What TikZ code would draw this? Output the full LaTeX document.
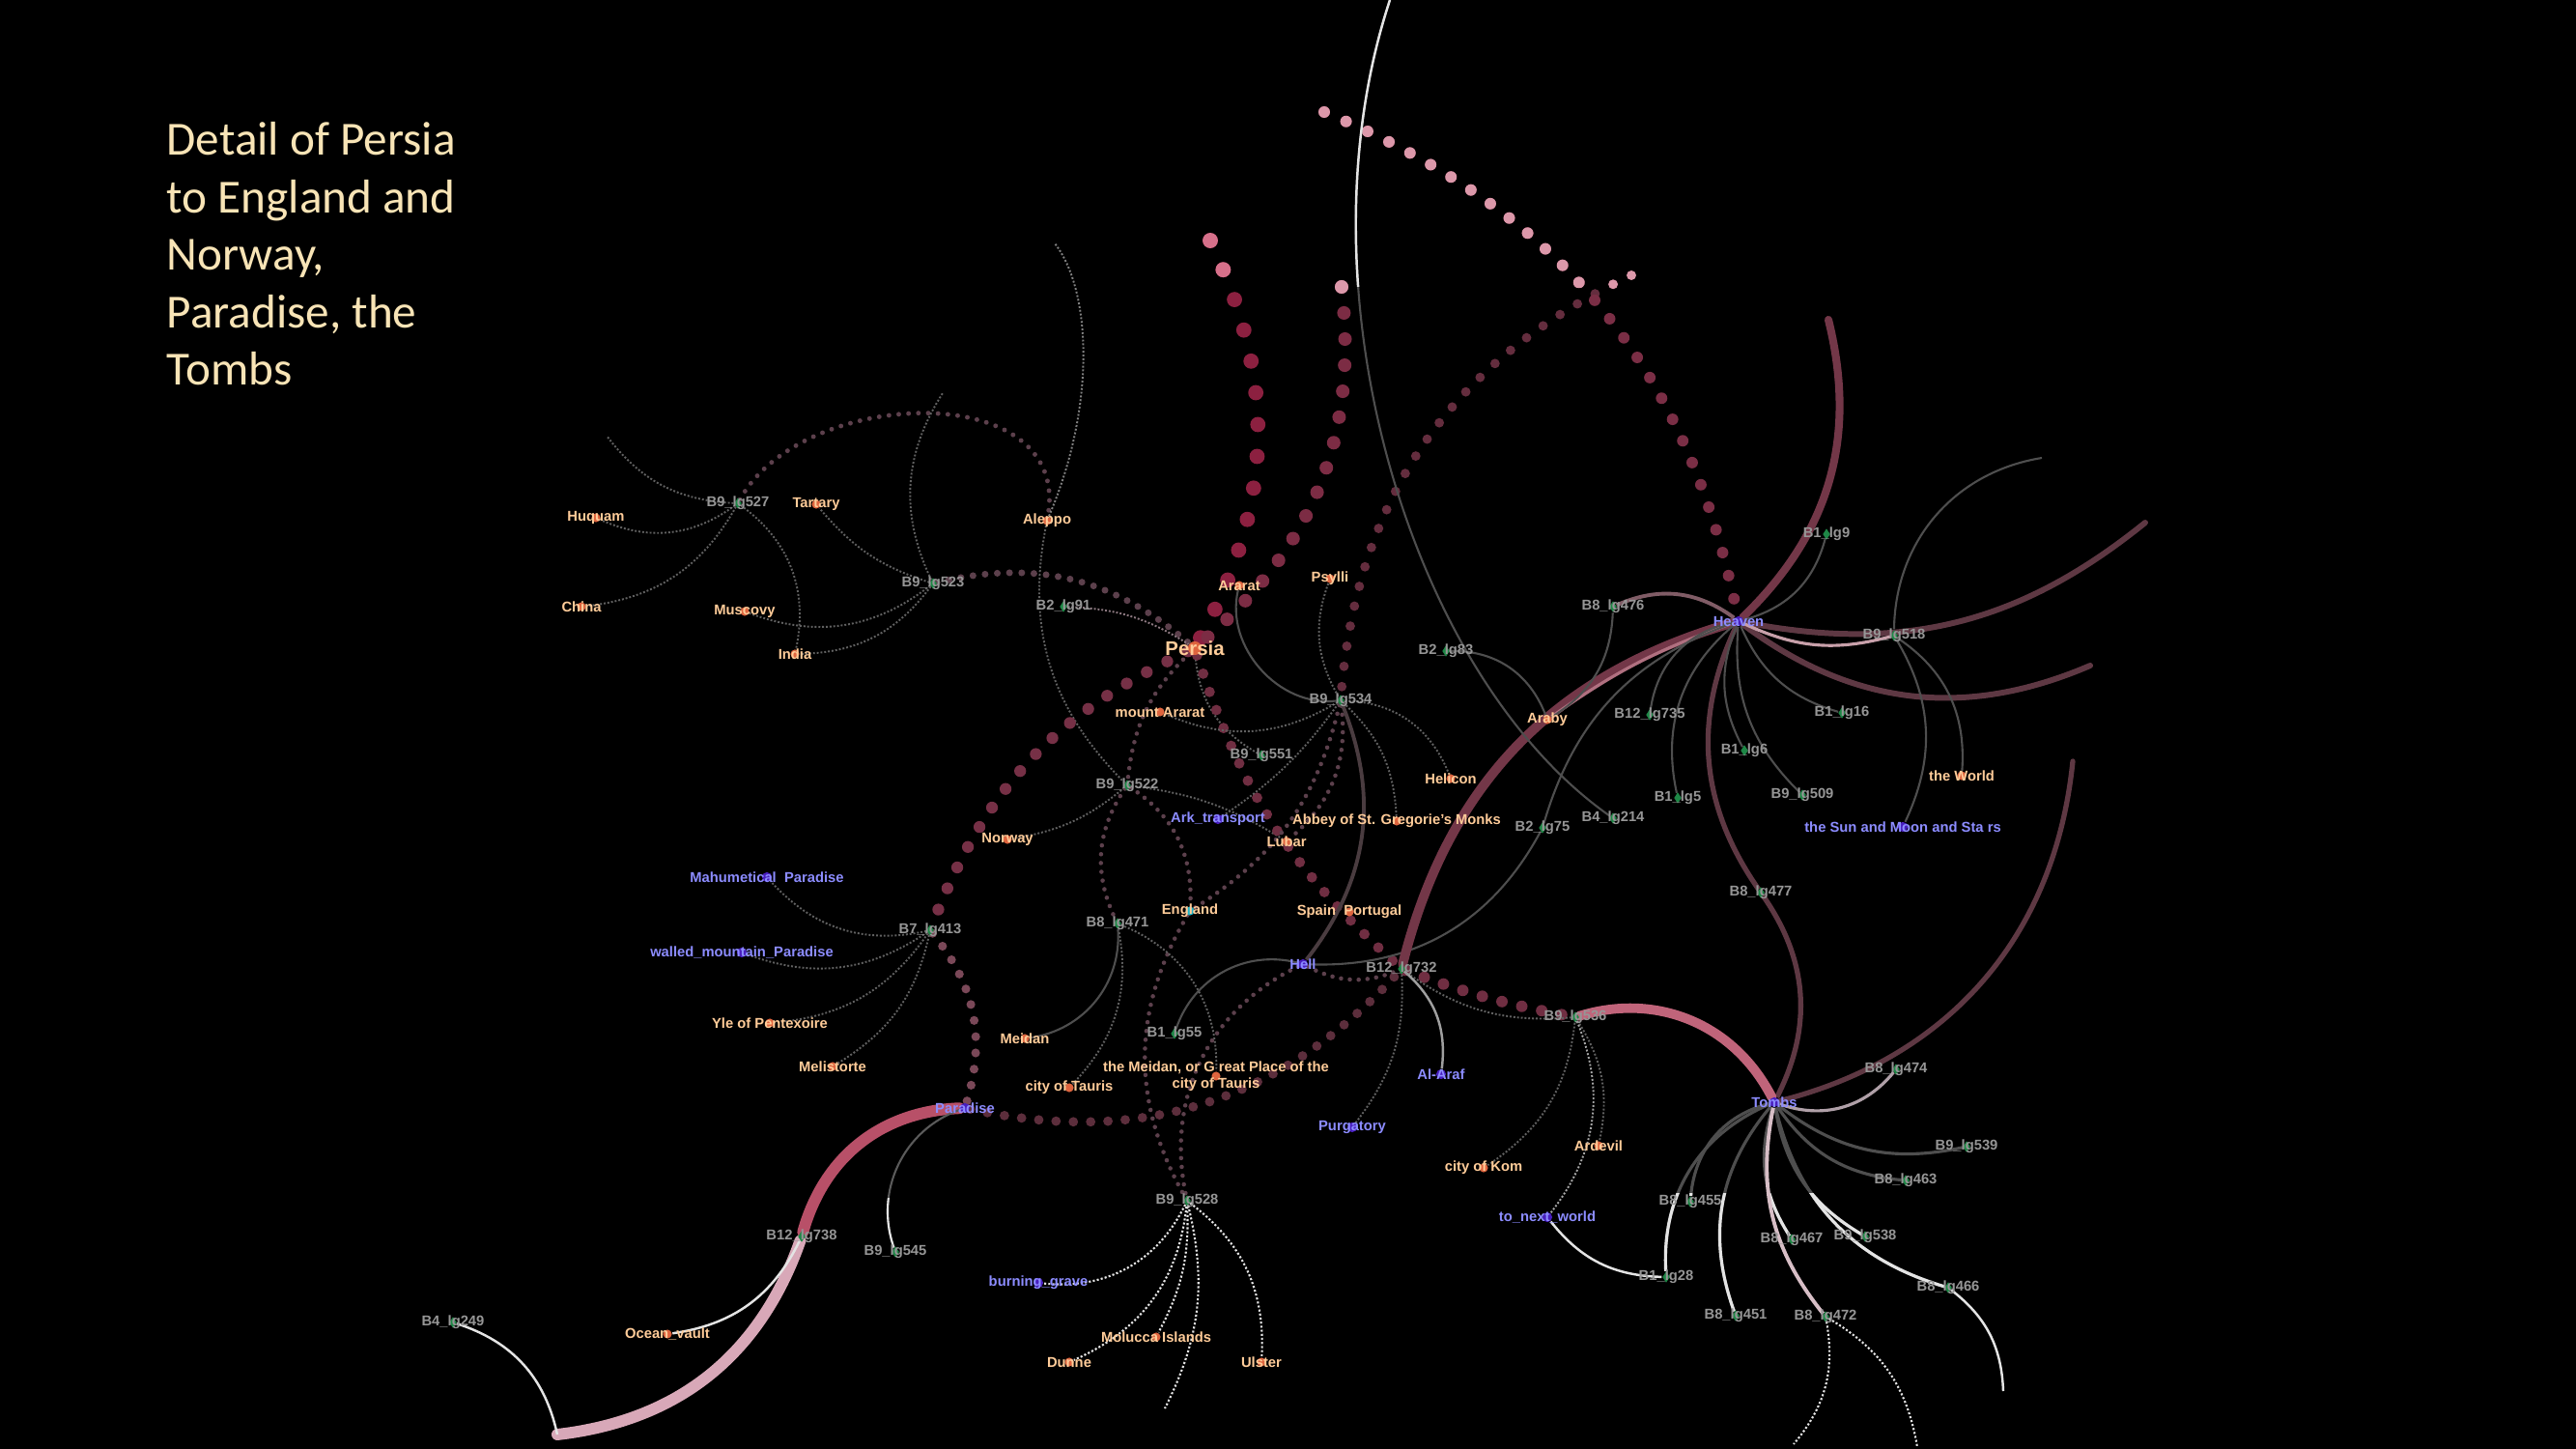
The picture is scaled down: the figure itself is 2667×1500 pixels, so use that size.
\documentclass[tikz,border=0pt]{standalone}
\usepackage{fontspec}
\setmainfont{Liberation Sans}
\newfontfamily\titlefont{Carlito}
\usetikzlibrary{shapes.geometric}

\definecolor{locdot}{RGB}{222,100,62}
\definecolor{loctext}{RGB}{255,204,153}
\definecolor{realmdot}{RGB}{72,30,190}
\definecolor{realmtext}{RGB}{140,140,255}
\definecolor{iddot}{RGB}{30,135,70}
\definecolor{idtext}{RGB}{150,150,150}
\definecolor{englanddot}{RGB}{30,180,200}
\definecolor{titlecol}{RGB}{248,228,182}
\definecolor{linegrey}{RGB}{78,78,78}
\definecolor{dotgrey}{RGB}{96,96,96}
\definecolor{paleline}{RGB}{228,228,228}
\definecolor{beadmauve}{RGB}{92,64,76}
\definecolor{crimsonbead}{RGB}{140,32,64}
\definecolor{rosebead}{RGB}{214,112,138}
\definecolor{pinkbead}{RGB}{220,152,170}
\definecolor{winebead}{RGB}{124,44,68}
\definecolor{chaincol}{RGB}{100,45,62}
\definecolor{skycol}{RGB}{122,46,69}
\definecolor{persiabead}{RGB}{118,48,70}
\definecolor{lowbead}{RGB}{122,72,88}
\definecolor{parabead}{RGB}{92,46,60}
\definecolor{midbead}{RGB}{112,46,66}
\definecolor{hellarc}{RGB}{74,60,64}
\definecolor{arabyline}{RGB}{176,112,128}
\definecolor{paleheaven}{RGB}{200,160,170}
\definecolor{arcsix}{RGB}{128,92,102}
\definecolor{plum}{RGB}{94,56,67}
\definecolor{heavenarc}{RGB}{115,55,72}
\definecolor{paradisearc}{RGB}{184,80,104}
\definecolor{shorearc}{RGB}{216,168,184}
\definecolor{tombarc}{RGB}{192,100,122}
\definecolor{tombpale}{RGB}{176,160,168}
\definecolor{tombrose}{RGB}{215,190,198}
\definecolor{faintline}{RGB}{140,120,128}
\definecolor{midgrey}{RGB}{90,90,90}

\pgfdeclarelayer{bg}
\pgfdeclarelayer{links}
\pgfsetlayers{bg,links,main}

% fan of links under the Tombs
\newcommand{\tombfan}[1]{%
  \path[#1] (tombs) edge[bend right=35] (lg455)
                    edge[bend right=35] (lg28)
                    edge[bend right=30] (lg451)
                    edge[bend right=25] (lg467)
                    edge[bend right=25] (lg538)
                    edge[bend right=30] (lg466);}

\begin{document}
\begin{tikzpicture}[x=0.1mm, y=0.1mm,
    lab/.style={font=\fontsize{4.2}{5}\selectfont\bfseries, inner sep=0pt, align=center},
    loc/.style={circle, fill=locdot, inner sep=0pt, minimum size=2.6pt,
                label={[lab, text=loctext]center:{#1}}},
    realm/.style={circle, fill=realmdot, inner sep=0pt, minimum size=2.9pt,
                  label={[lab, text=realmtext]center:{#1}}},
    lgid/.style={diamond, fill=iddot, inner sep=0pt, minimum width=2.3pt, minimum height=3.4pt,
                 label={[lab, text=idtext]center:{#1}}},
    grline/.style={draw=linegrey, line width=0.6pt},
    fine/.style={draw=dotgrey, line width=0.55pt, dash pattern=on 0.55pt off 0.55pt},
    wfine/.style={draw=paleline, line width=0.6pt, dash pattern=on 0.6pt off 0.6pt},
    beads/.style={draw=beadmauve, line width=1.3pt, line cap=round, dash pattern=on 0pt off 2.6pt},
    pearls/.style={line cap=round, dash pattern=on 0pt off #1}]

  \useasboundingbox (0,0) rectangle (2667,-1500);
  \begin{pgfonlayer}{bg}
    \fill[black] (0,0) rectangle (2667,-1500);
  \end{pgfonlayer}

  \node[font=\titlefont\fontsize{14}{16.9}\selectfont, text=titlecol, align=left,
        anchor=north west, inner sep=0pt] (title) at (172,-126)
        {Detail of Persia\\to England and\\Norway,\\Paradise, the\\Tombs};

  % places
  \foreach \n/\x/\y/\t in {huquam/617/536/Huquam, tartary/845/522/Tartary, china/602/628/China,
      muscovy/771/633/Muscovy, india/823/677/India, aleppo/1084/539/Aleppo,
      ararat/1283/606/Ararat, psylli/1377/599/Psylli, mtararat/1201/737/mount Ararat,
      araby/1602/745/Araby, helicon/1502/806/Helicon, abbey/1446/850/Abbey of St. Gregorie's Monks,
      lubar/1332/871/Lubar, norway/1043/869/Norway, world/2031/803/the World,
      spain/1397/944/Spain~ Portugal, yle/797/1059/Yle of Pentexoire, meidan/1061/1075/Meidan,
      meidang/1259/1114/{the Meidan, or G reat Place of the\\city of Tauris},
      tauris/1107/1126/city of Tauris, melistorte/862/1104/Melistorte, ardevil/1655/1186/Ardevil,
      kom/1536/1209/city of Kom, ocean/691/1381/Ocean\_vault, molucca/1197/1384/Molucca Islands,
      dunne/1107/1410/Dunne, ulster/1306/1410/Ulster}
    \node[loc=\t] (\n) at (\x,-\y) {};
  \node[loc=England, fill=englanddot] (england) at (1232,-943) {};
  \node[circle, fill=locdot, inner sep=0pt, minimum size=4pt,
        label={[lab, text=loctext, font=\fontsize{5.8}{7}\selectfont\bfseries]center:Persia}]
        (persia) at (1237,-671) {};

  % realms
  \foreach \n/\x/\y/\t in {heaven/1800/643/Heaven, sunmoon/1970/856/the Sun and Moon and Sta rs,
      mahpar/794/908/Mahumetical~ Paradise, walled/768/986/walled\_mountain\_Paradise,
      ark/1261/848/Ark\_transport, hell/1349/998/Hell, alaraf/1492/1112/Al-Araf,
      paradise/999/1147/Paradise, tombs/1837/1141/Tombs, purgatory/1400/1167/Purgatory,
      nextworld/1602/1260/to\_next\_world, burning/1075/1328/burning\_grave}
    \node[realm=\t] (\n) at (\x,-\y) {};

  % line groups
  \foreach \n/\x/\y/\t in {lg527/764/521/B9\_lg527, lg523/966/604/B9\_lg523, lg91/1101/628/B2\_lg91,
      lg534/1388/725/B9\_lg534, lg551/1306/782/B9\_lg551, lg83/1497/674/B2\_lg83,
      lg522/1167/813/B9\_lg522, lg476/1670/628/B8\_lg476, lg9/1891/553/B1\_lg9,
      lg518/1961/658/B9\_lg518, lg735/1708/740/B12\_lg735, lg16/1907/738/B1\_lg16,
      lg6/1806/777/B1\_lg6, lg509/1866/823/B9\_lg509, lg5/1737/826/B1\_lg5,
      lg214/1670/847/B4\_lg214, lg75/1597/857/B2\_lg75, lg477/1823/924/B8\_lg477,
      lg413/963/963/B7\_lg413, lg471/1157/956/B8\_lg471, lg732/1451/1003/B12\_lg732,
      lg536/1631/1053/B9\_lg536, lg55/1216/1070/B1\_lg55, lg474/1963/1107/B8\_lg474,
      lg539/2036/1187/B9\_lg539, lg463/1973/1222/B8\_lg463, lg528/1229/1243/B9\_lg528,
      lg455/1750/1244/B8\_lg455, lg738/830/1280/B12\_lg738, lg545/927/1296/B9\_lg545,
      lg467/1855/1283/B8\_lg467, lg538/1931/1280/B9\_lg538, lg28/1725/1322/B1\_lg28,
      lg466/2017/1333/B8\_lg466, lg249/469/1369/B4\_lg249, lg451/1797/1362/B8\_lg451,
      lg472/1890/1363/B8\_lg472}
    \node[lgid=\t] (\n) at (\x,-\y) {};

  % loose ends
  \foreach \n/\x/\y in {c1/628/451, c2/976/407, c3/1092/252, ca/1253/249, cb/1389/297,
      cc/1689/285, cd/1371/116, ctop/1439/0, ch1/1893/331, ch2/2221/541, ch3/2164/689,
      ch4/2114/474, ct1/2146/788, ct2/2074/1440, ct3/1857/1495, ct4/1985/1498,
      csw/577/1485, c528/1206/1458}
    \coordinate (\n) at (\x,-\y);

  \begin{pgfonlayer}{links}
  % north-west hubs
  \path[fine] (lg527) edge[bend left=30] (huquam) edge[bend left=27] (china)
                      edge[bend left=33] (india) edge[bend left=25] (c1);
  \draw[beads, line width=1.4pt, dash pattern=on 0pt off 2.9pt]
        (lg527) .. controls (830,-400) and (1110,-390) .. (aleppo);
  \path[fine] (lg523) edge[bend left=16] (tartary) edge[bend left=29] (muscovy)
                      edge[bend left=26] (india) edge[bend left=29] (c2);
  \draw[beads, line width=2pt, dash pattern=on 0pt off 3.6pt] (lg523) to[bend left=27] (persia);
  \draw[fine, draw=faintline] (lg91) to[bend left=15] (persia);
  \draw[fine, draw=gray] (aleppo) .. controls (1135,-420) and (1130,-300) .. (c3);
  \draw[fine] (aleppo) to[bend right=28] (lg522);
  \path[fine] (lg522) edge[bend left=15] (norway) edge[bend left=12] (lubar);
  \path[beads] (lg522) edge[bend left=30] (england) edge[bend right=30] (lg471);
  \path[beads] (persia) edge[bend right=20] (lg522);
  \path[fine] (persia) edge[bend right=28] (lg551);

  % bead chains
  \draw[pearls=9.4pt, line width=4.5pt, crimsonbead] (ca) to[bend left=27] (persia);
  \draw[pearls=7.7pt, line width=4pt, winebead] (cb) to[bend left=28] (persia);
  \draw[pearls=6pt, line width=2.8pt, chaincol] (cc) to[bend right=30] (lg534);
  \draw[pearls=7pt, line width=3.4pt, skycol] (cd) to[bend left=28] (heaven);
  \begin{scope}
    \clip (1150,0) rectangle (1350,-292);
    \draw[pearls=9.4pt, line width=4.5pt, rosebead] (ca) to[bend left=27] (persia);
  \end{scope}
  \begin{scope}
    \clip (1350,0) rectangle (1450,-312);
    \draw[pearls=7.7pt, line width=4pt, pinkbead] (cb) to[bend left=28] (persia);
  \end{scope}
  \begin{scope}
    \clip (1660,0) rectangle (1720,-300);
    \draw[pearls=6pt, line width=2.8pt, pinkbead] (cc) to[bend right=30] (lg534);
  \end{scope}
  \begin{scope}
    \clip (1300,0) rectangle (1645,-298);
    \draw[pearls=7pt, line width=3.4pt, pinkbead] (cd) to[bend left=28] (heaven);
  \end{scope}
  \draw[pearls=6.8pt, line width=3.5pt, persiabead] (persia) to[bend right=22] (lg413);
  \draw[pearls=4.8pt, line width=2.6pt, lowbead] (lg413) to[bend left=28] (paradise);
  \draw[pearls=5.1pt, line width=2.8pt, parabead] (paradise) to[bend right=30] (lg732);
  \draw[pearls=6pt, line width=3.4pt, midbead] (lg732) to[bend right=5] (lg536);
  \draw[pearls=5.7pt, line width=3.1pt, midbead] (persia) to[bend right=15] (lg732);

  % around B9_lg534 and Hell
  \path[grline] (ararat) edge[bend right=55] (lg534);
  \path[fine] (psylli) edge[bend right=25] (lg534);
  \path[fine] (lg534) edge[bend left=27] (mtararat) edge[bend left=33] (helicon)
                      edge[bend left=22] (abbey) edge[bend left=10] (ark);
  \path[beads] (lg534) edge[bend left=28] (lubar) edge[bend left=22] (england);
  \draw[line width=1.1pt, hellarc] (lg534) to[bend left=30] (hell);
  \path[grline] (hell) edge[bend right=32] (lg75) edge[bend right=43] (lg55);
  \path[beads] (hell) edge[bend right=38] (lg528) edge[bend right=25] (lg732);
  \path[beads] (england) edge[bend right=30] (lg528);
  \path[fine] (lg471) edge[bend left=35] (meidang) edge[bend left=27] (tauris);
  \path[grline] (lg471) edge[bend left=43] (meidan);
  \path[wfine] (lg528) edge[bend left=35] (burning) edge[bend left=30] (dunne)
                       edge[bend left=15] (molucca) edge[bend left=20] (c528)
                       edge[bend left=28] (ulster);

  % Heaven
  \draw[line width=2.8pt, line cap=round, heavenarc] (lg732) to[bend left=30] (heaven);
  \draw[line width=0.9pt, arabyline] (araby) to[bend left=8] (heaven);
  \draw[line width=2.3pt, line cap=round, heavenarc] (heaven) to[bend right=30] (ch1);
  \draw[line width=1.7pt, line cap=round, plum] (heaven) to[bend right=25] (ch2);
  \draw[line width=1.7pt, line cap=round, plum] (heaven) to[bend right=30] (ch3);
  \draw[line width=0.9pt, paleheaven] (heaven) to[bend right=20] (lg518);
  \draw[line width=1.1pt, arcsix] (heaven) to[bend right=30] (lg476);
  \draw[line width=1.5pt, plum] (heaven) to[bend right=30] (lg477);
  \draw[line width=1.5pt, plum] (lg477) to[bend left=31] (tombs);
  \draw[line width=1.5pt, line cap=round, plum] (tombs) to[bend right=35] (ct1);
  \path[grline] (heaven) edge[bend right=30] (lg9) edge[bend right=35] (lg735)
                         edge[bend right=31] (lg5) edge[bend right=25] (lg6)
                         edge[bend right=25] (lg509) edge[bend right=25] (lg16)
                         edge[bend right=27] (lg75);
  \path[grline] (lg518) edge[bend left=40] (ch4) edge[bend left=30] (world)
                        edge[bend left=28] (sunmoon);
  \path[grline] (lg476) edge[bend left=28] (araby);
  \path[grline] (lg83) edge[bend left=35] (araby);
  \draw[grline] (lg214) .. controls (1460,-700) and (1340,-300) .. (ctop);
  \begin{scope}
    \clip (1300,0) rectangle (1500,-297);
    \draw[line width=0.7pt, paleline] (lg214) .. controls (1460,-700) and (1340,-300) .. (ctop);
  \end{scope}

  % Paradise
  \draw[line width=3.4pt, line cap=round, paradisearc] (paradise) to[bend right=36] (lg738);
  \draw[line width=3.4pt, line cap=round, shorearc] (lg738) to[bend left=32] (csw);
  \draw[line width=0.6pt, midgrey] (paradise) to[bend right=45] (lg545);
  \begin{scope}
    \clip (880,-1240) rectangle (990,-1310);
    \draw[line width=0.6pt, paleline] (paradise) to[bend right=45] (lg545);
  \end{scope}
  \draw[line width=0.7pt, paleline] (lg738) to[bend left=28] (ocean);
  \draw[line width=0.7pt, paleline] (lg249) to[bend left=30] (csw);
  \path[fine] (lg413) edge[bend left=30] (mahpar) edge[bend left=27] (walled)
                      edge[bend left=25] (yle) edge[bend left=23] (melistorte);

  % B12_lg732 and B9_lg536
  \path[fine] (lg732) edge[bend right=20] (lg536) edge[bend left=20] (purgatory);
  \draw[line width=0.7pt, gray!75] (lg732) to[bend left=28] (alaraf);
  \path[fine] (lg536) edge[bend left=25] (kom) edge[bend left=22] (ardevil);
  \draw[fine, draw=gray!70] (lg536) to[bend left=30] (nextworld);
  \draw[line width=0.7pt, paleline] (nextworld) to[bend right=25] (lg28);
  \draw[line width=2.8pt, line cap=round, tombarc] (lg536) to[bend left=40] (tombs);

  % Tombs
  \draw[line width=0.9pt, tombpale] (tombs) to[bend right=35] (lg474);
  \path[line width=0.9pt, draw=linegrey] (tombs) edge[bend right=25] (lg539) edge[bend right=25] (lg463);
  \tombfan{line width=0.9pt, draw=linegrey}
  \begin{scope}
    \clip (1650,-1235) rectangle (2150,-1500);
    \tombfan{line width=0.9pt, draw=paleline}
  \end{scope}
  \draw[line width=1.1pt, tombrose] (tombs) to[bend right=25] (lg472);
  \path[wfine] (lg472) edge[bend left=25] (ct3) edge[bend left=25] (ct4);
  \draw[line width=0.7pt, paleline] (lg466) to[bend left=25] (ct2);
  \end{pgfonlayer}
\end{tikzpicture}
\end{document}
